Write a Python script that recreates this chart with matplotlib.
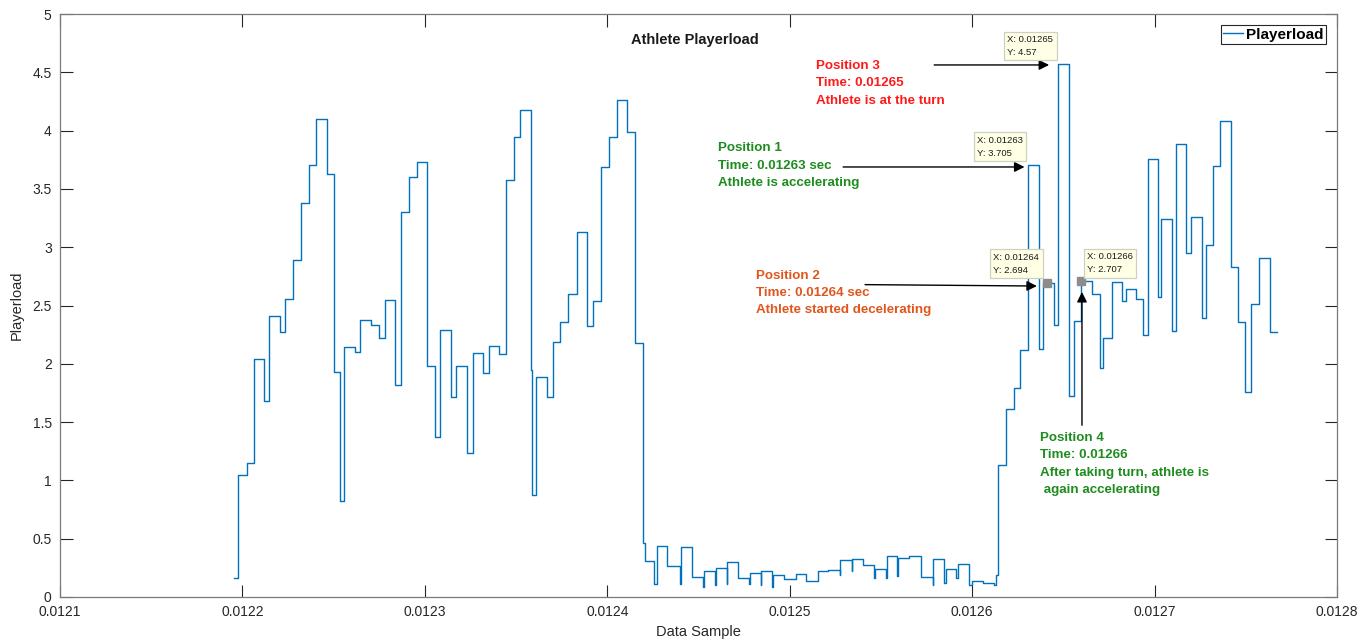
import numpy as np
import matplotlib.pyplot as plt
from matplotlib.ticker import FormatStrFormatter, FuncFormatter

plt.rcParams['font.family'] = ['Liberation Sans', 'DejaVu Sans']

# step start times (data sample) and playerload values
t_start = [0.0121953, 0.0121977, 0.0122023, 0.0122063, 0.0122119, 0.0122147,
           0.0122204, 0.0122233, 0.0122278, 0.0122320, 0.0122363, 0.0122403,
           0.0122461, 0.0122503, 0.0122533, 0.0122558, 0.0122617, 0.0122646,
           0.0122704, 0.0122750, 0.0122780, 0.0122838, 0.0122867, 0.0122913,
           0.0122957, 0.0123013, 0.0123055, 0.0123084, 0.0123141, 0.0123172,
           0.0123231, 0.0123262, 0.0123320, 0.0123350, 0.0123408, 0.0123443,
           0.0123487, 0.0123523, 0.0123580, 0.0123590, 0.0123609, 0.0123670,
           0.0123701, 0.0123742, 0.0123786, 0.0123832, 0.0123890, 0.0123920,
           0.0123966, 0.0124010, 0.0124052, 0.0124110, 0.0124154, 0.0124198,
           0.0124208, 0.0124258, 0.0124271, 0.0124330, 0.0124399, 0.0124403,
           0.0124463, 0.0124527, 0.0124530, 0.0124591, 0.0124595, 0.0124655,
           0.0124658, 0.0124714, 0.0124779, 0.0124783, 0.0124841, 0.0124845,
           0.0124905, 0.0124910, 0.0124971, 0.0125033, 0.0125091, 0.0125154,
           0.0125212, 0.0125275, 0.0125278, 0.0125340, 0.0125344, 0.0125402,
           0.0125464, 0.0125468, 0.0125528, 0.0125532, 0.0125590, 0.0125596,
           0.0125656, 0.0125722, 0.0125785, 0.0125788, 0.0125848, 0.0125856,
           0.0125912, 0.0125925, 0.0125982, 0.0125998, 0.0126057, 0.0126122,
           0.0126132, 0.0126144, 0.0126185, 0.0126227, 0.0126263, 0.0126306,
           0.0126364, 0.0126389, 0.0126446, 0.0126473, 0.0126532, 0.0126556,
           0.0126598, 0.0126656, 0.0126702, 0.0126720, 0.0126765, 0.0126823,
           0.0126841, 0.0126899, 0.0126939, 0.0126964, 0.0127020, 0.0127037,
           0.0127093, 0.0127117, 0.0127174, 0.0127199, 0.0127258, 0.0127283,
           0.0127323, 0.0127360, 0.0127417, 0.0127455, 0.0127497, 0.0127528,
           0.0127572, 0.0127630]
t_end = 0.0127671
load = [0.16, 1.045, 1.15, 2.04, 1.685, 2.41, 2.27, 2.555, 2.89, 3.375,
        3.705, 4.10, 3.625, 1.93, 0.825, 2.145, 2.10, 2.375, 2.33, 2.22,
        2.545, 1.815, 3.30, 3.60, 3.73, 1.98, 1.375, 2.29, 1.715, 1.985,
        1.235, 2.09, 1.92, 2.15, 2.085, 3.58, 3.945, 4.18, 1.95, 0.875,
        1.89, 1.715, 2.19, 2.355, 2.60, 3.13, 2.325, 2.535, 3.69, 3.945,
        4.26, 3.985, 2.18, 0.465, 0.31, 0.11, 0.435, 0.27, 0.11, 0.425,
        0.175, 0.09, 0.22, 0.10, 0.25, 0.11, 0.30, 0.16, 0.11, 0.21,
        0.10, 0.225, 0.09, 0.19, 0.155, 0.195, 0.135, 0.225, 0.235, 0.19,
        0.315, 0.22, 0.33, 0.275, 0.16, 0.24, 0.16, 0.355, 0.18, 0.335,
        0.35, 0.175, 0.10, 0.33, 0.12, 0.24, 0.16, 0.28, 0.10, 0.14,
        0.12, 0.10, 0.19, 1.13, 1.615, 1.79, 2.115, 3.705, 2.125, 2.694,
        2.33, 4.57, 1.72, 2.37, 2.707, 2.60, 1.96, 2.22, 2.705, 2.535,
        2.64, 2.555, 2.245, 3.76, 2.575, 3.245, 2.28, 3.885, 2.95, 3.26,
        2.39, 3.02, 3.70, 4.085, 2.83, 2.36, 1.76, 2.515, 2.905, 2.27]

# data tips shown on the chart
tip_x = [0.0126306, 0.0126413, 0.0126473, 0.0126598]
tip_y = [3.705, 2.694, 4.57, 2.707]
tip_marker = [False, True, False, True]

x_ticks = [0.0121, 0.0122, 0.0123, 0.0124, 0.0125, 0.0126, 0.0127, 0.0128]
y_ticks = [0, 0.5, 1, 1.5, 2, 2.5, 3, 3.5, 4, 4.5, 5]

fig = plt.figure(figsize=(13.69, 6.39), dpi=100)
ax = fig.add_axes([60 / 1369, 42 / 639, 1277 / 1369, 583 / 639])

xs = np.array(t_start + [t_end])
ys = np.array(load + [load[-1]])
ax.step(xs, ys, where='post', color='#0072BD', lw=1.0, label='Playerload')

for x, y, m in zip(tip_x, tip_y, tip_marker):
    if m:
        ax.plot(x, y, 's', ms=5.5, color='#8c8c8c', mec='#8c8c8c', zorder=5)

ax.set_xlim(0.0121, 0.0128)
ax.set_ylim(0, 5)
ax.set_xticks(x_ticks)
ax.set_yticks(y_ticks)
ax.xaxis.set_major_formatter(FormatStrFormatter('%.4f'))
ax.yaxis.set_major_formatter(FuncFormatter(lambda v, p: '%g' % v))
ax.tick_params(direction='in', length=9, width=0.8, colors='#262626',
               labelsize=10, top=True, right=True, pad=6)
for s in ax.spines.values():
    s.set_color('#7a7a7a')
    s.set_linewidth(0.9)

ax.set_xlabel('Data Sample', fontsize=10.5, color='#262626', labelpad=4)
ax.set_ylabel('Playerload', fontsize=10.5, color='#262626', labelpad=6)
ax.text(0.4969, 0.955, 'Athlete Playerload', transform=ax.transAxes, ha='center',
        va='center', fontsize=10.5, fontweight='bold', color='#1a1a1a')

leg = ax.legend(loc='upper right', handlelength=1.3,
                borderaxespad=0.75, fancybox=False, framealpha=1,
                borderpad=0.15, handletextpad=0.2, prop={'weight': 'bold', 'size': 11})
leg.get_frame().set_edgecolor('#262626')
leg.get_frame().set_linewidth(0.8)

# data tip boxes
tip_off = [(-51, 7), (-54, 8), (-51, 7), (6, 7)]
for x, y, off in zip(tip_x, tip_y, tip_off):
    ax.annotate('X: %.4g\nY: %g' % (x, y), xy=(x, y), xytext=off,
                textcoords='offset pixels', ha='left', va='bottom',
                fontsize=6.8, color='#1a1a1a', linespacing=1.6,
                bbox=dict(boxstyle='square,pad=0.35', fc='#ffffe6',
                          ec='#d0d0c0', lw=0.9), zorder=6)

arrow = dict(arrowstyle='-|>', color='black', lw=1.0, mutation_scale=15,
             shrinkA=0, shrinkB=0)

notes = [
    ('Position 3\nTime: 0.01265\nAthlete is at the turn', '#ff1a1a',
     (0.0125145, 4.608), (0.0125792, 4.563), (0.0126422, 4.563)),
    ('Position 1\nTime: 0.01263 sec\nAthlete is accelerating', '#1e8c1e',
     (0.0124606, 3.900), (0.0125293, 3.688), (0.0126287, 3.688)),
    ('Position 2\nTime: 0.01264 sec\nAthlete started decelerating', '#e0561c',
     (0.0124814, 2.808), (0.0125413, 2.679), (0.0126355, 2.667)),
    ('Position 4\nTime: 0.01266\nAfter taking turn, athlete is\n again accelerating', '#1e8c1e',
     (0.0126373, 1.415), (0.0126602, 1.473), (0.0126602, 2.616)),
]
for txt, col, tpos, a0, a1 in notes:
    ax.text(tpos[0], tpos[1], txt, color=col, fontsize=9.6, fontweight='bold',
            ha='left', va='top', linespacing=1.6)
    ax.annotate('', xy=a1, xytext=a0, arrowprops=arrow)

fig.savefig('out.png', dpi=100)
